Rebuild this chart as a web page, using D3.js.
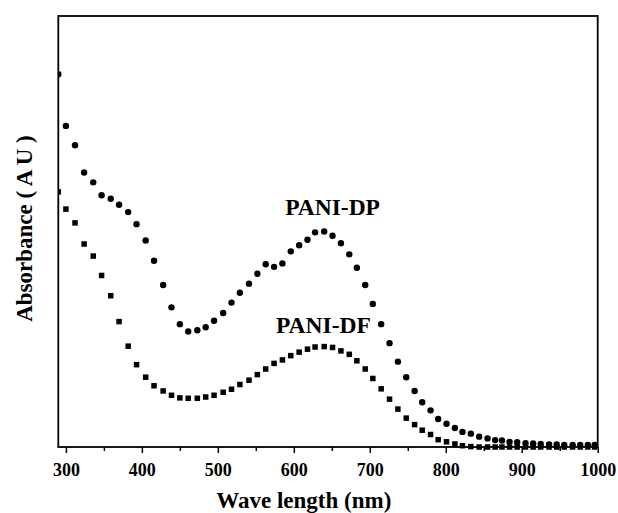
<!DOCTYPE html>
<html>
<head>
<meta charset="utf-8">
<script src="https://cdn.jsdelivr.net/npm/d3@7"></script>
<style>
  body { margin: 0; background: #fff; }
  #chart text { font-family: "Liberation Serif", "Times New Roman", serif; font-weight: bold; fill: #000; }
</style>
</head>
<body>
<div id="chart"></div>
<script>
// wavelengths (nm) shared by both spectra
const wavelength = [290, 300, 312, 324, 336, 347, 359, 370, 382, 393,
    405, 416, 428, 439, 450, 461, 473, 484, 495, 507,
    518, 529, 541, 552, 563, 574, 585, 596, 607, 618,
    628, 640, 651, 662, 673, 683, 694, 704, 715, 726,
    737, 748, 759, 769, 780, 790, 801, 812, 822, 833,
    844, 855, 865, 874, 884, 894, 905, 915, 925, 936,
    946, 956, 967, 977, 987, 996];

// absorbance (arbitrary units)
const pani_dp = [0.865, 0.745, 0.700, 0.637, 0.614, 0.584, 0.576, 0.562, 0.545, 0.517,
    0.479, 0.432, 0.376, 0.324, 0.285, 0.268, 0.271, 0.278, 0.293, 0.311,
    0.335, 0.358, 0.379, 0.402, 0.424, 0.418, 0.426, 0.454, 0.468, 0.481,
    0.498, 0.500, 0.490, 0.473, 0.447, 0.416, 0.376, 0.332, 0.285, 0.241,
    0.198, 0.162, 0.130, 0.104, 0.085, 0.065, 0.054, 0.044, 0.035, 0.031,
    0.024, 0.020, 0.016, 0.015, 0.012, 0.011, 0.009, 0.008, 0.007, 0.006,
    0.006, 0.005, 0.005, 0.005, 0.005, 0.005];

const pani_df = [0.592, 0.552, 0.520, 0.471, 0.443, 0.398, 0.351, 0.291, 0.234, 0.191,
    0.162, 0.142, 0.130, 0.120, 0.114, 0.113, 0.113, 0.116, 0.120, 0.127,
    0.134, 0.145, 0.155, 0.168, 0.181, 0.194, 0.202, 0.212, 0.220, 0.227,
    0.232, 0.233, 0.231, 0.223, 0.215, 0.200, 0.181, 0.159, 0.135, 0.111,
    0.088, 0.067, 0.052, 0.039, 0.029, 0.017, 0.012, 0.007, 0.003, 0.001,
    0, 0, 0, 0, 0, 0, 0, 0, 0, 0,
    0, 0, 0, 0, 0, 0];

const x_ticks = [300, 400, 500, 600, 700, 800, 900, 1000];
const x_minor = [350, 450, 550, 650, 750, 850, 950];

const labels = [
    { name: "PANI-DP", wl: 651, a: 0.538 },
    { name: "PANI-DF", wl: 639, a: 0.264 }
];

// set the dimensions and margins of the graph
var margin = { top: 16, right: 20.3, bottom: 66, left: 58.3 },
    width = 618 - margin.left - margin.right,
    height = 513 - margin.top - margin.bottom;

var svg = d3.select("#chart").append("svg")
    .attr("width", 618)
    .attr("height", 513)
    .append("g")
    .attr("transform", `translate(${margin.left}, ${margin.top})`);

var x = d3.scaleLinear().domain([290, 1000]).range([0, width]);
var y = d3.scaleLinear().domain([0, 1]).range([height, 0]);

// clip markers at the left/right frame
svg.append("clipPath").attr("id", "clip")
    .append("rect")
    .attr("x", 0).attr("y", -5)
    .attr("width", width).attr("height", height + 10);

// x-axis, minor ticks first
svg.append("g")
    .attr("transform", `translate(0, ${height})`)
    .call(d3.axisBottom(x).tickValues(x_minor).tickSize(4).tickFormat(""))
    .call(g => g.select(".domain").remove())
    .call(g => g.selectAll("line").attr("stroke-width", 1.5));

svg.append("g")
    .attr("transform", `translate(0, ${height})`)
    .call(d3.axisBottom(x).tickValues(x_ticks).tickSize(6).tickPadding(10).tickFormat(d3.format("d")))
    .call(g => g.select(".domain").remove())
    .call(g => g.selectAll("line").attr("stroke-width", 1.5))
    .call(g => g.selectAll("text").attr("font-size", 18).attr("font-family", null));

// frame
svg.append("rect")
    .attr("width", width)
    .attr("height", height)
    .attr("fill", "none")
    .attr("stroke", "#000")
    .attr("stroke-width", 1.8);

var points = svg.append("g").attr("clip-path", "url(#clip)");

// PANI-DP, circles
points.selectAll(".dp")
    .data(wavelength)
    .enter().append("circle")
    .attr("class", "dp")
    .attr("cx", (d) => x(d))
    .attr("cy", (d, i) => y(pani_dp[i]))
    .attr("r", 3.2)
    .attr("fill", "#000");

// PANI-DF, squares
var s = 5.5;
points.selectAll(".df")
    .data(wavelength)
    .enter().append("rect")
    .attr("class", "df")
    .attr("x", (d) => x(d) - s / 2)
    .attr("y", (d, i) => y(pani_df[i]) - s / 2)
    .attr("width", s)
    .attr("height", s)
    .attr("fill", "#000");

// series labels
svg.selectAll(".lbl")
    .data(labels)
    .enter().append("text")
    .attr("class", "lbl")
    .attr("x", (d) => x(d.wl))
    .attr("y", (d) => y(d.a))
    .attr("text-anchor", "middle")
    .attr("font-size", 23.5)
    .text((d) => d.name);

// axis titles
svg.append("text")
    .attr("x", (x(300) + x(1000)) / 2 - 28)
    .attr("y", height + 61)
    .attr("text-anchor", "middle")
    .attr("font-size", 23)
    .text("Wave length (nm)");

svg.append("text")
    .attr("transform", `translate(${-26}, ${height / 2 - 3}) rotate(-90)`)
    .attr("text-anchor", "middle")
    .attr("font-size", 23)
    .text("Absorbance ( A U )");
</script>
</body>
</html>
